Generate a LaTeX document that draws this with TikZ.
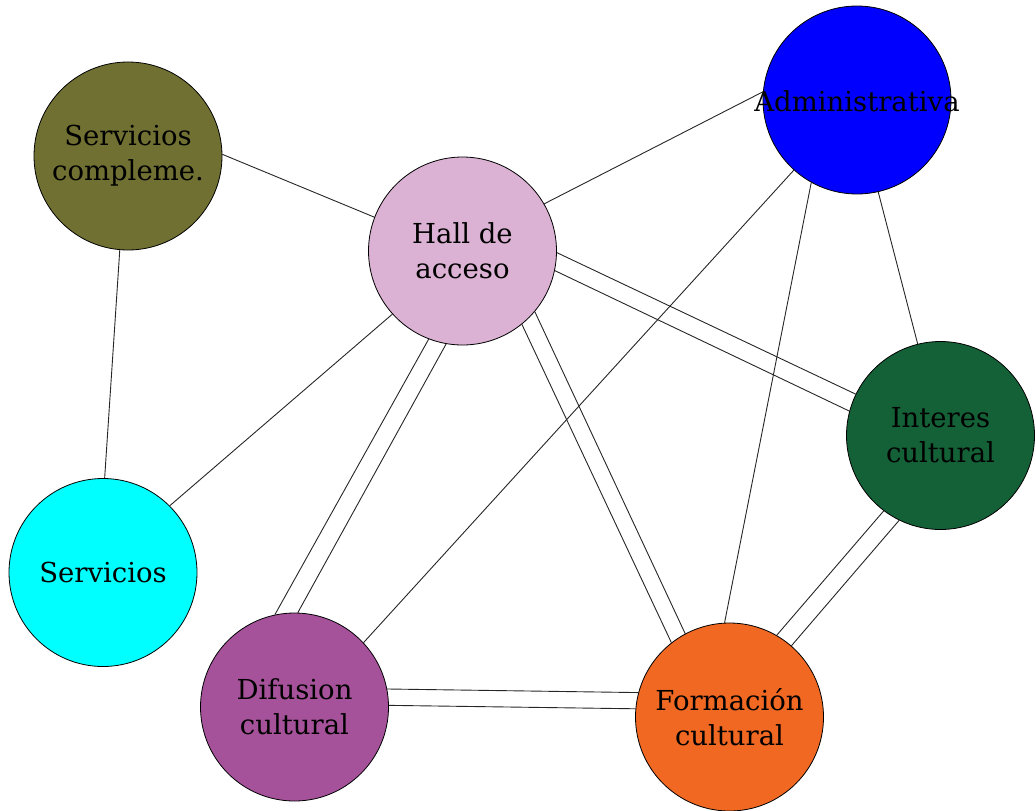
\documentclass[tikz,border=0pt]{standalone}
\usepackage{fontspec}
\setmainfont{DejaVu Serif}
\usetikzlibrary{backgrounds}
\definecolor{cOlive}{RGB}{112,112,50}
\definecolor{cPink}{RGB}{219,178,211}
\definecolor{cBlue}{RGB}{0,0,255}
\definecolor{cGreen}{RGB}{20,96,55}
\definecolor{cCyan}{RGB}{0,255,255}
\definecolor{cPurple}{RGB}{166,82,155}
\definecolor{cOrange}{RGB}{240,104,34}
\begin{document}
\begin{tikzpicture}[x=1pt,y=-1pt,
  bub/.style={circle, draw=black, line width=0.8pt, minimum size=188pt, inner sep=0pt, align=center, font=\fontsize{27.5}{35}\selectfont},
  txt/.style={inner sep=0pt, align=center, font=\fontsize{27.5}{35}\selectfont},
  link/.style={draw=black!85, line width=0.9pt}]
\useasboundingbox (0,0) rectangle (1036,811);
\node[bub, fill=cOlive] (sc) at (128,156) {Servicios\\compleme.};
\node[bub, fill=cPink] (hall) at (462.5,251) {Hall de\\acceso};
\node[bub, fill=cBlue] (adm) at (857,100) {};
\node[txt] (admtext) at (857,101) {Administrativa};
\node[bub, fill=cGreen] (int) at (940.5,435.5) {Interes\\cultural};
\node[bub, fill=cCyan] (serv) at (103,572.5) {Servicios};
\node[bub, fill=cPurple] (dif) at (294.5,707) {Difusion\\cultural};
\node[bub, fill=cOrange] (form) at (729.5,717) {Formación\\cultural};
\begin{scope}[on background layer]
\draw[link] (sc.1) -- (hall.159);
\draw[link] (sc.265) -- (serv.89);
\draw[link] (hall.30) -- (adm.175);
\draw[link] (hall.222) -- (serv.45);
\draw[link] (hall.249) -- (dif.102);
\draw[link] (hall.260) -- (dif.88);
\draw[link] (hall.309) -- (form.128);
\draw[link] (hall.320) -- (form.118);
\draw[link] (hall.-1) -- (int.154);
\draw[link] (hall.-12) -- (int.165);
\draw[link] (adm.228) -- (dif.43);
\draw[link] (adm.241) -- (form.93);
\draw[link] (adm.283) -- (int.104);
\draw[link] (int.233) -- (form.60);
\draw[link] (int.244) -- (form.49);
\draw[link] (dif.11) -- (form.165);
\draw[link] (dif.1) -- (form.175);
\end{scope}
\end{tikzpicture}
\end{document}
